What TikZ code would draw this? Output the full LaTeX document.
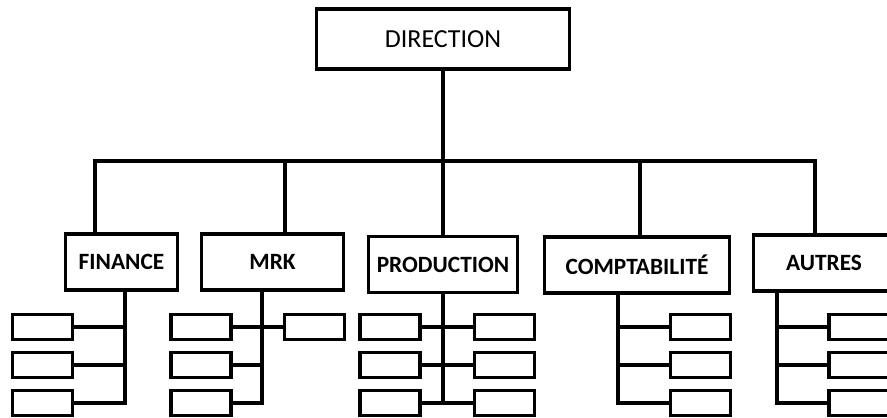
\documentclass[tikz,border=0pt]{standalone}
\usepackage{fontspec}
\setmainfont{Carlito}

\begin{document}
\begin{tikzpicture}[x=0.75pt, y=-0.75pt, line width=2.6pt,
  headbox/.style={draw, inner sep=0pt, minimum width=189.75pt, minimum height=45pt, font=\fontsize{19.5}{22}\selectfont},
  deptbox/.style={draw, inner sep=0pt, minimum height=42pt, font=\fontsize{17.5}{20}\selectfont\bfseries},
  subbox/.style={draw, inner sep=0pt, minimum width=45pt, minimum height=18.75pt}]
  \useasboundingbox (0, 0) rectangle (887, 417);

  % Direction
  \node[headbox] (dir) at (443, 39) {DIRECTION};

  % Departments
  \node[deptbox, minimum width=84pt] (fin) at (121.5, 262) {FINANCE};
  \node[deptbox, minimum width=106.5pt] (mrk) at (272.5, 262) {MRK};
  \node[deptbox, minimum width=111.75pt] (prod) at (443, 264.5) {PRODUCTION};
  \node[deptbox, minimum width=138.75pt] (compta) at (637, 265) {COMPTABILITÉ};
  \node[deptbox, minimum width=105.75pt] (autres) at (824, 263) {AUTRES};

  % Bus
  \coordinate (b1) at (95, 161);
  \coordinate (b2) at (285, 161);
  \coordinate (b3) at (443, 161);
  \coordinate (b4) at (640, 161);
  \coordinate (b5) at (815, 161);
  \draw (dir.south) -- (b3);
  \draw (b1 |- fin.north) -- (b1) -- (b5) -- (b5 |- autres.north);
  \draw (b2) -- (b2 |- mrk.north);
  \draw (b3) -- (prod.north);
  \draw (b4) -- (b4 |- compta.north);

  % Sub-units
  \coordinate (fs) at (125, 403);
  \coordinate (ms) at (262, 403);
  \coordinate (ps) at (443, 403);
  \coordinate (cs) at (618, 403);
  \coordinate (as) at (777, 403);
  \foreach \y [count=\i] in {327, 365, 403} {
    \node[subbox] (fin\i) at (42.5, \y) {};
    \node[subbox] (mrk\i) at (201, \y) {};
    \node[subbox] (prodl\i) at (390, \y) {};
    \node[subbox] (prodr\i) at (504.5, \y) {};
    \node[subbox] (comp\i) at (700.5, \y) {};
    \node[subbox] (aut\i) at (859, \y) {};
    \draw (fin\i.east) -- (fin\i.east -| fs);
    \draw (mrk\i.east) -- (mrk\i.east -| ms);
    \draw (prodl\i.east) -- (prodr\i.west);
    \draw (comp\i.west) -- (comp\i.west -| cs);
    \draw (aut\i.west) -- (aut\i.west -| as);
  }
  \node[subbox] (mrkr) at (314.5, 327) {};
  \draw (mrkr.west) -- (mrkr.west -| ms);

  % Stems
  \draw (fs |- fin.south) -- (fs) -- (fin3.east);
  \draw (ms |- mrk.south) -- (ms) -- (mrk3.east);
  \draw (prod.south) -- (ps);
  \draw (cs |- compta.south) -- (cs) -- (comp3.west);
  \draw (as |- autres.south) -- (as) -- (aut3.west);
\end{tikzpicture}
\end{document}
